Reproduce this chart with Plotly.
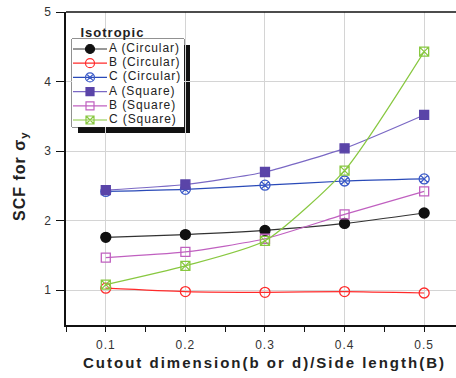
import plotly.graph_objects as go

# Cutout ratio (b or d)/B
ratio = [0.1, 0.2, 0.3, 0.4, 0.5]

# Stress concentration factor for sigma_y, isotropic plate
scf_a_circ = [1.76, 1.80, 1.86, 1.96, 2.11]
scf_b_circ = [1.03, 0.98, 0.97, 0.98, 0.96]
scf_c_circ = [2.42, 2.45, 2.51, 2.57, 2.60]
scf_a_sq = [2.44, 2.52, 2.70, 3.04, 3.52]
scf_b_sq = [1.47, 1.55, 1.74, 2.09, 2.42]
scf_c_sq = [1.08, 1.35, 1.71, 2.72, 4.43]

series_names = ["A (Circular)", "B (Circular)", "C (Circular)",
                "A (Square)", "B (Square)", "C (Square)"]
series_values = [scf_a_circ, scf_b_circ, scf_c_circ, scf_a_sq, scf_b_sq, scf_c_sq]

styles = [
    dict(line="#333333", marker="#111111", symbol="circle", size=10),
    dict(line="#ff2a2a", marker="#ff2a2a", symbol="circle-open", size=10),
    dict(line="#2a4ab8", marker="#3a5ac8", symbol="circle-x-open", size=10),
    dict(line="#7a68c4", marker="#5a44a8", symbol="square", size=9),
    dict(line="#c060c0", marker="#c060c0", symbol="square-open", size=9),
    dict(line="#88c840", marker="#88c840", symbol="square-x-open", size=9),
]

FONT = "Liberation Sans, Arial, sans-serif"

fig = go.Figure()
for name, vals, st in zip(series_names, series_values, styles):
    fig.add_trace(go.Scatter(
        x=ratio, y=vals, name=name, mode="lines+markers", showlegend=False,
        line=dict(color=st["line"], width=1.2, shape="spline", smoothing=0.6),
        marker=dict(symbol=st["symbol"], size=st["size"], color=st["marker"],
                    line=dict(color=st["marker"], width=1.3)),
    ))

# Key box: drawn on its own small overlay axes measured in pixels (112 x 88)
KEY_W, KEY_H = 112, 88
row_y = [10 + 14.2 * i for i in range(len(series_names))]
for name, st, ry in zip(series_names, styles, row_y):
    fig.add_trace(go.Scatter(
        x=[1, 35], y=[ry, ry], mode="lines", xaxis="x2", yaxis="y2",
        line=dict(color=st["line"], width=1.2), showlegend=False, hoverinfo="skip",
    ))
    fig.add_trace(go.Scatter(
        x=[18], y=[ry], mode="markers", xaxis="x2", yaxis="y2",
        marker=dict(symbol=st["symbol"], size=st["size"] - 1, color=st["marker"],
                    line=dict(color=st["marker"], width=1.2)),
        showlegend=False, hoverinfo="skip",
    ))
    fig.add_trace(go.Scatter(
        x=[37], y=[ry], mode="text", text=[name], textposition="middle right",
        xaxis="x2", yaxis="y2", textfont=dict(size=12, color="#222222", family=FONT),
        showlegend=False, hoverinfo="skip",
    ))

# plot area in pixels: x 66..456, y 12..325
key_x = [(72 - 66) / 390, (184 - 66) / 390]
key_y = [(325 - 127) / 313, (325 - 39) / 313]

fig.update_layout(
    width=456, height=378,
    margin=dict(l=66, r=0, t=12, b=53),
    paper_bgcolor="white", plot_bgcolor="white",
    font=dict(family=FONT, color="#333333"),
    xaxis=dict(
        range=[0.05, 0.54], tickvals=ratio, ticktext=[f"{v:.1f}" for v in ratio],
        showgrid=True, gridcolor="#d4d4d4", gridwidth=1,
        showline=True, linecolor="#111111", linewidth=1.5,
        ticks="outside", ticklen=5, tickcolor="#111111", ticklabelstandoff=3,
        minor=dict(dtick=0.05, tick0=0.05, ticks="outside", ticklen=5,
                   tickcolor="#111111", showgrid=False),
        tickfont=dict(size=12, color="#333333"), zeroline=False,
    ),
    yaxis=dict(
        range=[0.5, 5], tickvals=[1, 2, 3, 4, 5],
        showgrid=True, gridcolor="#d4d4d4", gridwidth=1,
        showline=True, linecolor="#111111", linewidth=1.5,
        ticks="outside", ticklen=8, tickcolor="#111111", ticklabelstandoff=3,
        tickfont=dict(size=12, color="#333333"), zeroline=False,
    ),
    xaxis2=dict(domain=key_x, range=[0, KEY_W], anchor="y2", visible=False,
                fixedrange=True),
    yaxis2=dict(domain=key_y, range=[KEY_H, 0], anchor="x2", visible=False,
                fixedrange=True),
    shapes=[
        # top frame line
        dict(type="line", xref="paper", yref="paper", x0=0, x1=1, y0=1, y1=1,
             line=dict(color="#111111", width=1.5)),
        # key drop shadow and box
        dict(type="rect", xref="paper", yref="paper", layer="between",
             x0=key_x[0] + 6 / 390, x1=key_x[1] + 6 / 390,
             y0=key_y[0] - 6 / 313, y1=key_y[1] - 6 / 313,
             fillcolor="#111111", line=dict(width=0)),
        dict(type="rect", xref="paper", yref="paper", layer="between",
             x0=key_x[0], x1=key_x[1], y0=key_y[0], y1=key_y[1],
             fillcolor="white", line=dict(color="#222222", width=1)),
    ],
    annotations=[
        dict(text="<b>Isotropic</b>", xref="paper", yref="paper",
             x=(83 - 66) / 390, y=(325 - 32) / 313,
             xanchor="left", yanchor="middle", showarrow=False,
             font=dict(size=13, color="#222222")),
        dict(text="<b>Cutout dimension(b or d)/Side length(B)</b>", xref="x", yref="paper",
             x=0.3, y=(325 - 362) / 313, xanchor="center", yanchor="middle",
             showarrow=False, font=dict(size=15, color="#222222")),
        dict(text="<b>SCF for σ<sub>y</sub></b>", xref="paper", yref="paper",
             x=(21 - 66) / 390, y=(325 - 176) / 313, textangle=-90,
             xanchor="center", yanchor="middle", showarrow=False,
             font=dict(size=16, color="#222222")),
    ],
)

# widen the letter spacing of the labels once the plot is drawn
spacing_js = """
var gd = document.getElementById('{plot_id}');
function sp(sel, v) {
  gd.querySelectorAll(sel).forEach(function (t) { t.setAttribute('letter-spacing', v); });
}
sp('.xtick text', '1px');
sp('.textpoint text', '0.9px');
var ann = gd.querySelectorAll('.annotation-text');
if (ann.length > 0) ann[0].setAttribute('letter-spacing', '1px');
if (ann.length > 1) ann[1].setAttribute('letter-spacing', '2px');
if (ann.length > 2) ann[2].setAttribute('letter-spacing', '1px');
"""

fig.write_html("out.html", post_script=spacing_js)
